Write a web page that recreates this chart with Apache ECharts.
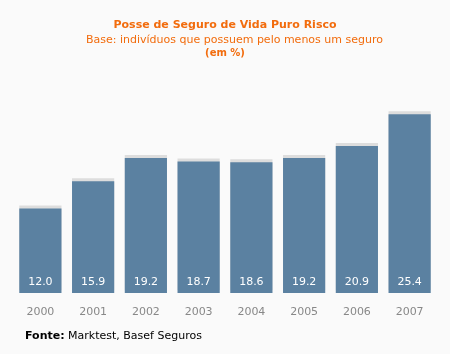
<!DOCTYPE html>
<html>
<head>
<meta charset="utf-8">
<script src="https://cdn.jsdelivr.net/npm/echarts@6/dist/echarts.min.js"></script>
<style>
  html, body { margin: 0; padding: 0; background: #fafafa; }
  #chart { width: 450px; height: 354px; }
</style>
</head>
<body>
<div id="chart"></div>
<script>
const years = ['2000', '2001', '2002', '2003', '2004', '2005', '2006', '2007'];
const values = [12.0, 15.9, 19.2, 18.7, 18.6, 19.2, 20.9, 25.4];

const font = '"DejaVu Sans", Verdana, sans-serif';
const orange = '#f26c0d';

const chart = echarts.init(document.getElementById('chart'));
chart.setOption({
  backgroundColor: '#fafafa',
  animation: false,
  title: [
    { text: 'Posse de Seguro de Vida Puro Risco', left: 'center', top: 15,
      textStyle: { fontFamily: font, fontSize: 11, fontWeight: 'bold', color: orange } },
    { text: 'Base: indivíduos que possuem pelo menos um seguro', left: 81, top: 30,
      textStyle: { fontFamily: font, fontSize: 11, fontWeight: 'normal', color: orange } },
    { text: '(em %)', left: 'center', top: 43,
      textStyle: { fontFamily: font, fontSize: 10, fontWeight: 'bold', color: orange } }
  ],
  graphic: [
    { type: 'text', left: 25, top: 331,
      style: { text: '{b|Fonte:} Marktest, Basef Seguros', fill: '#000',
        font: '11px ' + font,
        rich: { b: { fontWeight: 'bold', fontFamily: font, fontSize: 11, fill: '#000' } } } }
  ],
  grid: { left: 14, right: 14, top: 82, bottom: 61 },
  xAxis: {
    type: 'category',
    data: years,
    axisLine: { show: false },
    axisTick: { show: false },
    axisLabel: { color: '#888', fontFamily: font, fontSize: 11, margin: 14 }
  },
  yAxis: { type: 'value', min: 0, max: 30, show: false },
  series: [{
    type: 'bar',
    data: values,
    barWidth: '80%',
    itemStyle: { color: '#5b81a1', shadowColor: '#dddddd', shadowOffsetY: -3, shadowBlur: 0 },
    label: {
      show: true, position: 'insideBottom', distance: 5,
      color: '#fff', fontFamily: font, fontSize: 11,
      formatter: p => p.value.toFixed(1)
    }
  }]
});
</script>
</body>
</html>
